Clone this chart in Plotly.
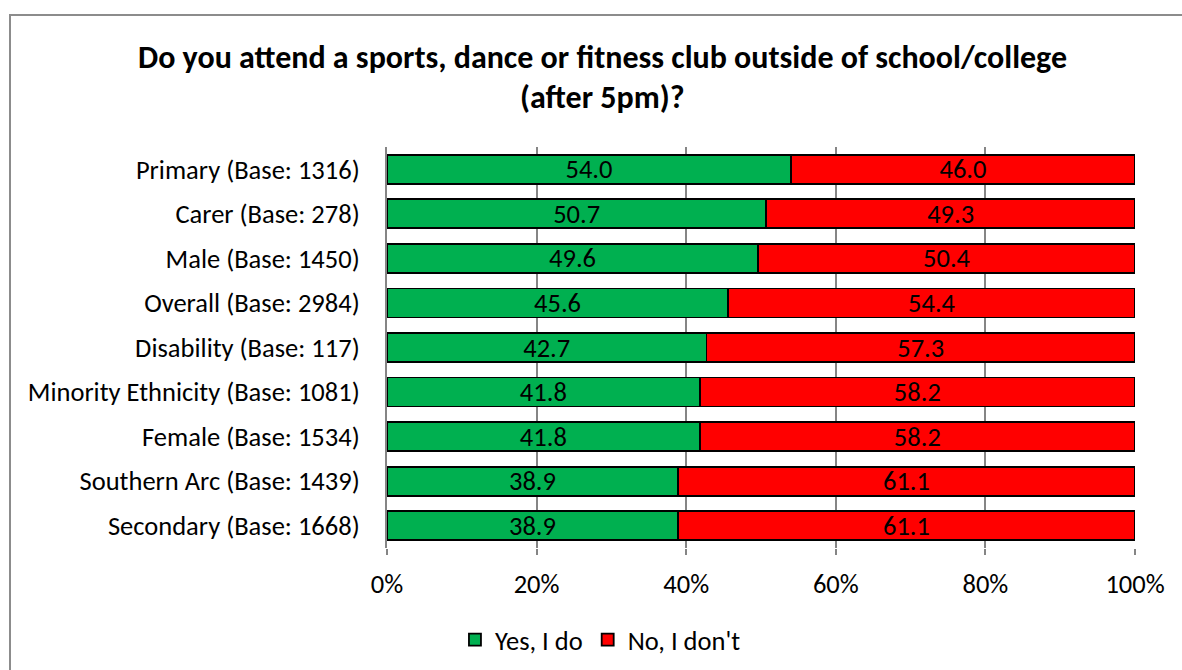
import plotly.graph_objects as go

categories = [
    "Primary (Base: 1316)",
    "Carer (Base: 278)",
    "Male (Base: 1450)",
    "Overall (Base: 2984)",
    "Disability (Base: 117)",
    "Minority Ethnicity (Base: 1081)",
    "Female (Base: 1534)",
    "Southern Arc (Base: 1439)",
    "Secondary (Base: 1668)",
]
yes_values = [54.0, 50.7, 49.6, 45.6, 42.7, 41.8, 41.8, 38.9, 38.9]
no_values = [46.0, 49.3, 50.4, 54.4, 57.3, 58.2, 58.2, 61.1, 61.1]
series_names = ["Yes, I do", "No, I don't"]
tick_vals = [0, 20, 40, 60, 80, 100]
tick_text = ["0%", "20%", "40%", "60%", "80%", "100%"]
title_lines = ["Do you attend a sports, dance or fitness club outside of school/college", "(after 5pm)?"]

FONT = "Carlito, Calibri, Lato, sans-serif"
FS = 26.5
W, H = 1182, 670
L, R, T, B = 387, 47, 147, 122

fig = go.Figure()
for name, vals, color in [(series_names[0], yes_values, "#00B050"), (series_names[1], no_values, "#FF0000")]:
    fig.add_trace(go.Bar(
        y=categories, x=vals, name=name, orientation="h",
        marker=dict(color=color, line=dict(color="#000000", width=1.8)),
        text=vals, texttemplate="%{x:.1f}", textposition="inside",
        insidetextanchor="middle", textangle=0, constraintext="none",
        textfont=dict(family=FONT, size=FS, color="#000000"),
        cliponaxis=False,
    ))

pw = W - L - R
ph = H - T - B

def px_x(x):
    return (x - L) / pw

def px_y(y):
    return (H - B - y) / ph

fig.update_layout(
    width=W, height=H,
    barmode="stack", bargap=0.35,
    margin=dict(l=L, r=R, t=T, b=B, autoexpand=False),
    paper_bgcolor="white", plot_bgcolor="white",
    font=dict(family=FONT, size=FS, color="#000000"),
    showlegend=True,
    legend=dict(orientation="h", xref="container", yref="container", x=0.508, y=1 - 640 / H,
                xanchor="center", yanchor="middle", traceorder="normal",
                font=dict(family=FONT, size=FS, color="#000000"),
                itemwidth=30, tracegroupgap=0),
    xaxis=dict(range=[0, 100], tickvals=tick_vals, ticktext=tick_text,
               showgrid=True, gridcolor="#858585", gridwidth=2,
               ticks="outside", ticklen=6, tickcolor="#858585", tickwidth=2,
               zeroline=False, showline=False, fixedrange=True,
               tickfont=dict(family=FONT, size=FS, color="#000000"), ticklabelstandoff=6),
    yaxis=dict(categoryorder="array", categoryarray=categories[::-1], autorange=True,
               showline=True, linecolor="#858585", linewidth=2,
               ticks="", ticklabelstandoff=20, fixedrange=True,
               tickfont=dict(family=FONT, size=FS, color="#000000")),
    shapes=[dict(type="rect", xref="paper", yref="paper",
                 x0=px_x(10), x1=px_x(1300), y0=px_y(800), y1=px_y(15),
                 line=dict(color="#8c8c8c", width=2), fillcolor="rgba(0,0,0,0)", layer="below")],
    annotations=[
        dict(text="<b>" + title_lines[0] + "</b>", xref="paper", yref="paper",
             x=px_x(602), y=px_y(58), xanchor="center", yanchor="middle", showarrow=False,
             font=dict(family=FONT, size=32, color="#000000")),
        dict(text="<b>" + title_lines[1] + "</b>", xref="paper", yref="paper",
             x=px_x(602), y=px_y(98), xanchor="center", yanchor="middle", showarrow=False,
             font=dict(family=FONT, size=32, color="#000000")),
    ],
)

fig.write_html("out.html", config={"displayModeBar": False},
               post_script="document.body.style.margin='0';document.body.style.padding='0';document.body.style.overflow='hidden';")
